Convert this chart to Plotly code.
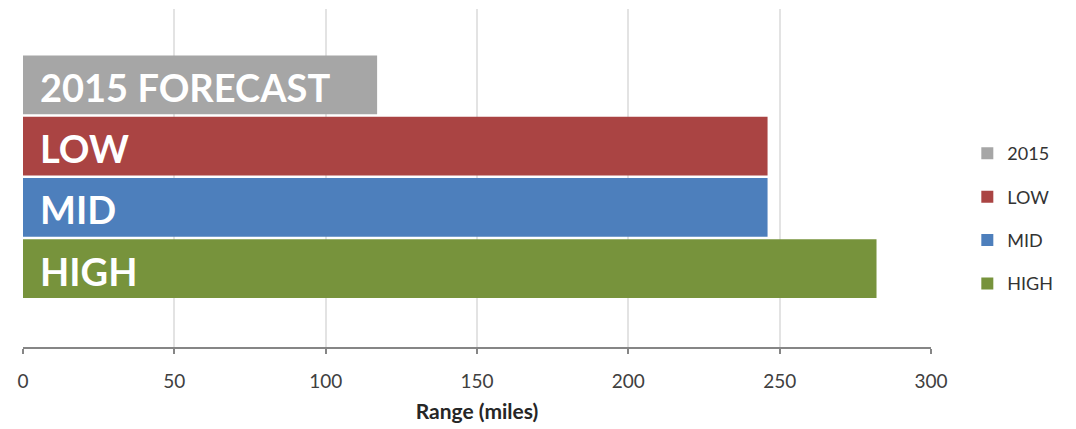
import plotly.graph_objects as go

# Range scenarios (miles)
categories = ["2015 FORECAST", "LOW", "MID", "HIGH"]
legend_names = ["2015", "LOW", "MID", "HIGH"]
range_miles = [117, 246, 246, 282]
colors = ["#a6a6a6", "#aa4443", "#4d7fbc", "#77933c"]
x_ticks = [0, 50, 100, 150, 200, 250, 300]

fig = go.Figure()
for cat, name, val, col in zip(categories, legend_names, range_miles, colors):
    fig.add_trace(go.Bar(
        x=[val], y=[cat], orientation="h", name=name,
        marker=dict(color=col, line=dict(width=0)),
        legendgroup=name, opacity=1, hoverinfo="x+name",
    ))
    # bold white label sitting at the left end of each bar
    fig.add_annotation(
        x=0, y=cat, xref="x", yref="y", text=f"<b>{cat}</b>",
        showarrow=False, xanchor="left", yanchor="middle", xshift=15, yshift=-2,
        font=dict(family="Lato", size=38, color="white"),
    )

fig.update_layout(
    width=1076, height=429,
    margin=dict(l=23, r=145, t=9, b=82),
    paper_bgcolor="white", plot_bgcolor="white",
    barmode="overlay", bargap=0.04,
    font=dict(family="Lato", size=18, color="#404040"),
    legend=dict(
        x=1.04, xanchor="left", y=0.38, yanchor="middle",
        traceorder="grouped", tracegroupgap=17,
        font=dict(family="Lato", size=18, color="#333333"),
        itemclick=False,
    ),
    showlegend=True,
)

fig.update_xaxes(
    range=[0, 300], tickvals=x_ticks, showgrid=True, gridcolor="#e3e3e3", gridwidth=2,
    zeroline=False, showline=True, linecolor="#868686", linewidth=2,
    ticks="outside", ticklen=5, tickcolor="#868686", tickwidth=2,
    ticklabelstandoff=11,
    tickfont=dict(family="Lato", size=19, color="#404040"),
    title=dict(text="<b>Range (miles)</b>", font=dict(family="Lato", size=21, color="#262626"), standoff=14),
)
fig.update_yaxes(
    type="category", categoryorder="array", categoryarray=categories,
    range=[4.28, -1.24], showticklabels=False, showgrid=False, zeroline=False, showline=False,
)

fig.write_html("out.html")
